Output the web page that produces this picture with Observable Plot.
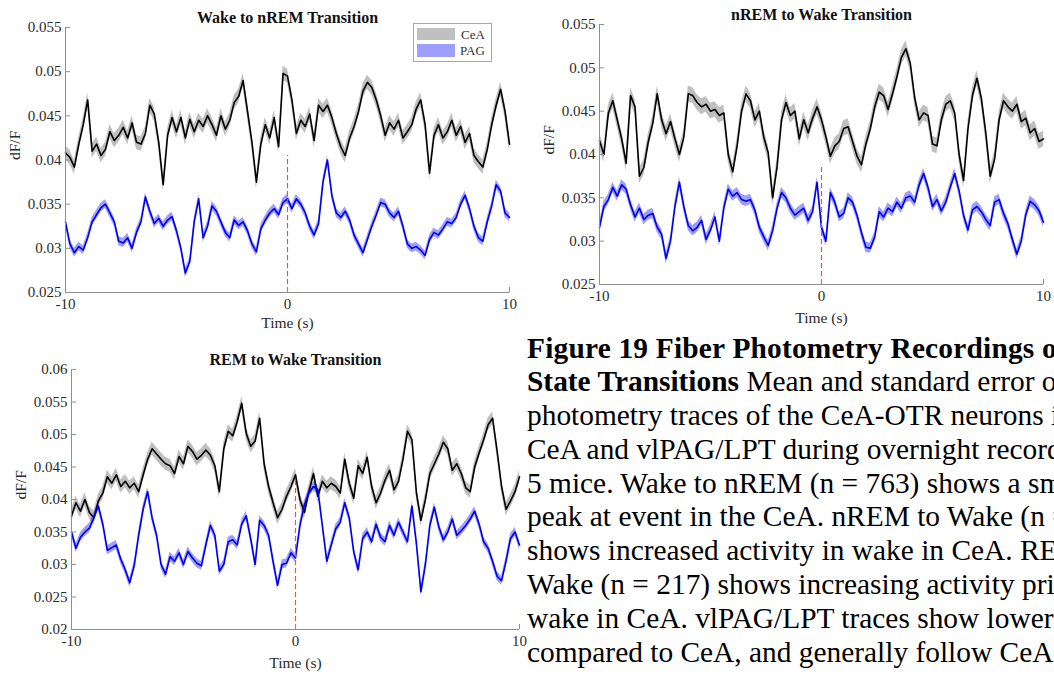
<!DOCTYPE html>
<html><head><meta charset="utf-8">
<script src="https://cdn.jsdelivr.net/npm/d3@7"></script>
<script src="https://cdn.jsdelivr.net/npm/@observablehq/plot@0.6"></script>
<style>
html,body{margin:0;padding:0;background:#fff;width:1054px;height:674px;overflow:hidden;}
body{position:relative;}
.panel{position:absolute;}
.legend{position:absolute;border:1px solid #a8a8a8;background:#fff;font-family:"Liberation Serif","Times New Roman",serif;font-size:13px;color:#333;}
.sw{position:absolute;width:38px;}
.lt{position:absolute;line-height:13px;}
.caption{position:absolute;left:527px;top:331.5px;font-family:"Liberation Serif","Times New Roman",serif;font-size:29.4px;line-height:33.8px;white-space:nowrap;color:#000;}
.l1{letter-spacing:0.2px;}
</style></head><body>
<div id="p1" class="panel" style="left:0;top:0"></div>
<div id="p2" class="panel" style="left:530px;top:0"></div>
<div id="p3" class="panel" style="left:0;top:335px"></div>
<div class="legend" style="left:413px;top:23px;width:77px;height:37px;">
  <div class="sw" style="left:3px;top:4px;height:12px;background:#c0c0c0"></div><div class="lt" style="left:47px;top:4px">CeA</div>
  <div class="sw" style="left:3px;top:20px;height:13px;background:#9e9eff"></div><div class="lt" style="left:46px;top:20px">PAG</div>
</div>
<div class="caption">
<div class="l1"><b>Figure 19 Fiber Photometry Recordings of</b></div>
<div><b>State Transitions</b> Mean and standard error of</div>
<div>photometry traces of the CeA-OTR neurons in</div>
<div>CeA and vlPAG/LPT during overnight recordings</div>
<div>5 mice. Wake to nREM (n = 763) shows a small</div>
<div>peak at event in the CeA. nREM to Wake (n =</div>
<div>shows increased activity in wake in CeA. REM to</div>
<div>Wake (n = 217) shows increasing activity prior to</div>
<div>wake in CeA. vlPAG/LPT traces show lower activity</div>
<div>compared to CeA, and generally follow CeA.</div>
</div>
<script>
const time = [-10,-9.8,-9.6,-9.4,-9.2,-9,-8.8,-8.6,-8.4,-8.2,-8,-7.8,-7.6,-7.4,-7.2,-7,-6.8,-6.6,-6.4,-6.2,-6,-5.8,-5.6,-5.4,-5.2,-5,-4.8,-4.6,-4.4,-4.2,-4,-3.8,-3.6,-3.4,-3.2,-3,-2.8,-2.6,-2.4,-2.2,-2,-1.8,-1.6,-1.4,-1.2,-1,-0.8,-0.6,-0.4,-0.2,0,0.2,0.4,0.6,0.8,1,1.2,1.4,1.6,1.8,2,2.2,2.4,2.6,2.8,3,3.2,3.4,3.6,3.8,4,4.2,4.4,4.6,4.8,5,5.2,5.4,5.6,5.8,6,6.2,6.4,6.6,6.8,7,7.2,7.4,7.6,7.8,8,8.2,8.4,8.6,8.8,9,9.2,9.4,9.6,9.8,10];

const xTicks = [-10, 0, 10];
const seriesNames = ["CeA", "PAG"];

// Wake to nREM
const wakeNremCeA = [0.0408,0.0403,0.0392,0.0418,0.0440,0.0468,0.0410,0.0418,0.0405,0.0412,
0.0432,0.0422,0.0428,0.0437,0.0425,0.0442,0.0420,0.0418,0.0430,0.0462,
0.0452,0.0420,0.0372,0.0428,0.0448,0.0432,0.0448,0.0425,0.0446,0.0432,
0.0445,0.0438,0.0450,0.0440,0.0428,0.0450,0.0435,0.0445,0.0465,0.0472,
0.0490,0.0455,0.0420,0.0375,0.0418,0.0440,0.0425,0.0448,0.0415,0.0498,
0.0495,0.0468,0.0430,0.0445,0.0438,0.0452,0.0422,0.0462,0.0455,0.0462,
0.0448,0.0430,0.0415,0.0405,0.0425,0.0438,0.0455,0.0478,0.0488,0.0482,
0.0468,0.0450,0.0428,0.0442,0.0435,0.0445,0.0425,0.0432,0.0440,0.0458,
0.0468,0.0440,0.0385,0.0428,0.0440,0.0425,0.0432,0.0445,0.0428,0.0438,
0.0420,0.0430,0.0405,0.0398,0.0392,0.0412,0.0440,0.0462,0.0480,0.0455,
0.0418];
const wakeNremPAG = [0.0330,0.0305,0.0295,0.0302,0.0298,0.0312,0.0330,0.0338,0.0346,0.0350,
0.0340,0.0330,0.0308,0.0306,0.0312,0.0300,0.0318,0.0330,0.0358,0.0342,
0.0328,0.0334,0.0325,0.0332,0.0336,0.0320,0.0300,0.0272,0.0285,0.0330,
0.0356,0.0312,0.0325,0.0348,0.0342,0.0330,0.0318,0.0312,0.0332,0.0326,
0.0330,0.0320,0.0305,0.0296,0.0322,0.0332,0.0340,0.0345,0.0338,0.0352,
0.0356,0.0345,0.0356,0.0350,0.0340,0.0325,0.0315,0.0328,0.0375,0.0400,
0.0360,0.0340,0.0335,0.0342,0.0332,0.0315,0.0305,0.0295,0.0310,0.0325,
0.0338,0.0352,0.0350,0.0340,0.0335,0.0342,0.0325,0.0305,0.0300,0.0302,
0.0298,0.0292,0.0310,0.0318,0.0315,0.0322,0.0330,0.0328,0.0335,0.0350,
0.0360,0.0345,0.0325,0.0312,0.0308,0.0330,0.0348,0.0372,0.0365,0.0340,
0.0335];

// nREM to Wake
const nremWakeCeA = [0.0416,0.0400,0.0448,0.0462,0.0440,0.0418,0.0390,0.0468,0.0455,0.0375,
0.0385,0.0415,0.0436,0.0470,0.0440,0.0424,0.0438,0.0418,0.0400,0.0420,
0.0470,0.0468,0.0460,0.0455,0.0458,0.0450,0.0452,0.0445,0.0448,0.0400,
0.0380,0.0410,0.0450,0.0470,0.0462,0.0440,0.0450,0.0420,0.0402,0.0350,
0.0386,0.0440,0.0460,0.0445,0.0450,0.0418,0.0440,0.0425,0.0442,0.0455,
0.0440,0.0420,0.0398,0.0410,0.0415,0.0430,0.0432,0.0415,0.0398,0.0388,
0.0412,0.0430,0.0455,0.0472,0.0468,0.0452,0.0470,0.0490,0.0512,0.0522,
0.0505,0.0465,0.0440,0.0448,0.0445,0.0412,0.0410,0.0440,0.0458,0.0462,
0.0448,0.0400,0.0370,0.0430,0.0468,0.0488,0.0465,0.0425,0.0375,0.0395,
0.0440,0.0462,0.0455,0.0450,0.0458,0.0438,0.0442,0.0425,0.0430,0.0415,
0.0418];
const nremWakePAG = [0.0316,0.0340,0.0348,0.0362,0.0352,0.0365,0.0360,0.0342,0.0328,0.0338,
0.0325,0.0330,0.0332,0.0316,0.0308,0.0280,0.0300,0.0340,0.0368,0.0340,
0.0318,0.0312,0.0316,0.0324,0.0302,0.0313,0.0328,0.0300,0.0338,0.0360,
0.0352,0.0356,0.0348,0.0346,0.0348,0.0336,0.0316,0.0305,0.0295,0.0312,
0.0338,0.0356,0.0350,0.0338,0.0330,0.0334,0.0338,0.0324,0.0334,0.0368,
0.0316,0.0300,0.0356,0.0345,0.0328,0.0332,0.0350,0.0345,0.0330,0.0310,
0.0293,0.0292,0.0305,0.0334,0.0328,0.0338,0.0334,0.0345,0.0338,0.0350,
0.0352,0.0345,0.0365,0.0378,0.0362,0.0340,0.0348,0.0335,0.0345,0.0362,
0.0378,0.0358,0.0330,0.0313,0.0336,0.0340,0.0334,0.0325,0.0318,0.0345,
0.0348,0.0332,0.0320,0.0302,0.0285,0.0300,0.0330,0.0346,0.0342,0.0335,
0.0322];

// REM to Wake
const remWakeCeA = [0.0375,0.0395,0.0382,0.0400,0.0380,0.0372,0.0398,0.0410,0.0435,0.0425,
0.0438,0.0420,0.0428,0.0418,0.0425,0.0412,0.0438,0.0462,0.0478,0.0470,
0.0462,0.0455,0.0452,0.0440,0.0466,0.0455,0.0482,0.0474,0.0462,0.0468,
0.0476,0.0468,0.0452,0.0412,0.0478,0.0505,0.0498,0.0520,0.0548,0.0502,
0.0482,0.0490,0.0525,0.0455,0.0420,0.0395,0.0372,0.0385,0.0405,0.0420,
0.0438,0.0400,0.0380,0.0412,0.0440,0.0405,0.0428,0.0418,0.0425,0.0420,
0.0410,0.0462,0.0425,0.0402,0.0452,0.0440,0.0465,0.0420,0.0395,0.0410,
0.0430,0.0445,0.0415,0.0428,0.0462,0.0505,0.0492,0.0410,0.0368,0.0400,
0.0440,0.0455,0.0470,0.0488,0.0478,0.0445,0.0455,0.0440,0.0418,0.0412,
0.0450,0.0472,0.0492,0.0515,0.0525,0.0475,0.0420,0.0385,0.0398,0.0412,
0.0435];
const remWakePAG = [0.0350,0.0325,0.0342,0.0350,0.0356,0.0372,0.0390,0.0362,0.0322,0.0326,
0.0330,0.0308,0.0292,0.0272,0.0298,0.0345,0.0385,0.0412,0.0372,0.0345,
0.0300,0.0285,0.0312,0.0305,0.0318,0.0300,0.0320,0.0310,0.0302,0.0298,
0.0330,0.0360,0.0345,0.0290,0.0300,0.0335,0.0338,0.0330,0.0362,0.0375,
0.0340,0.0300,0.0368,0.0360,0.0345,0.0305,0.0268,0.0300,0.0302,0.0318,
0.0310,0.0360,0.0392,0.0410,0.0420,0.0415,0.0360,0.0305,0.0330,0.0355,
0.0365,0.0395,0.0372,0.0320,0.0292,0.0340,0.0350,0.0335,0.0362,0.0342,
0.0335,0.0360,0.0345,0.0365,0.0350,0.0335,0.0390,0.0332,0.0258,0.0300,
0.0360,0.0388,0.0358,0.0338,0.0350,0.0370,0.0345,0.0352,0.0360,0.0370,
0.0382,0.0362,0.0335,0.0325,0.0305,0.0282,0.0275,0.0305,0.0340,0.0350,
0.0330];

// standard error half-widths
const semWakeNrem = [0.0008, 0.0005];
const semNremWake = [0.0009, 0.0006];
const semRemWake = [0.0010, 0.0007];

const yTicksA = [0.025,0.03,0.035,0.04,0.045,0.05,0.055];
const yTicksB = [0.02,0.025,0.03,0.035,0.04,0.045,0.05,0.055,0.06];

const FONT = '"Liberation Serif","Times New Roman",serif';
const AX = "#8f8f8f";

function panel(el, cfg) {
  const rows = time.map((t, i) => ({t, cea: cfg.cea[i], pag: cfg.pag[i]}));
  const [s0, s1] = cfg.sem;
  const y0 = cfg.yDomain[0];
  const chart = Plot.plot({
    width: cfg.width, height: cfg.height,
    marginLeft: cfg.m[0], marginRight: cfg.m[1], marginTop: cfg.m[2], marginBottom: cfg.m[3],
    style: {fontFamily: FONT, fontSize: "15px", color: "#2a2a2a", background: "transparent", overflow: "visible"},
    x: {domain: [-10, 10]},
    y: {domain: cfg.yDomain},
    marks: [
      Plot.areaY(rows, {x: "t", y1: d => d.cea - s0, y2: d => d.cea + s0, fill: "#808080", fillOpacity: 0.5}),
      Plot.line(rows, {x: "t", y: "cea", stroke: "#000", strokeWidth: 1.6}),
      Plot.areaY(rows, {x: "t", y1: d => d.pag - s1, y2: d => d.pag + s1, fill: "#0000ff", fillOpacity: 0.38}),
      Plot.line(rows, {x: "t", y: "pag", stroke: "#0000f0", strokeWidth: 1.6}),
      Plot.ruleX([0], {y1: y0, y2: cfg.markerTop, stroke: "#e4505f", strokeWidth: 1.2, strokeDasharray: "5,3"}),
      Plot.ruleX([-10], {stroke: AX}),
      Plot.ruleY([y0], {stroke: AX}),
      Plot.axisX({ticks: xTicks, tickSize: -5, tickPadding: 11, tickFormat: d => String(d), label: null, stroke: AX}),
      Plot.axisY({ticks: cfg.yTicks, tickSize: -5, tickPadding: 9, tickFormat: d => String(+d.toFixed(3)), label: null, stroke: AX}),
      Plot.text([cfg.title], {text: d => d, frameAnchor: "top", lineAnchor: "middle", dy: -10, fontWeight: "bold", fontSize: 16, fill: "#111"}),
      Plot.text(["Time (s)"], {text: d => d, frameAnchor: "bottom", lineAnchor: "middle", dy: cfg.timeDy, fontSize: 15.5, fill: "#2a2a2a"}),
      Plot.text(["dF/F"], {text: d => d, frameAnchor: "left", dx: -50, rotate: -90, fontSize: 15.5, fill: "#2a2a2a"})
    ]
  });
  document.getElementById(el).appendChild(chart);
}

panel("p1", {width: 530, height: 330, m: [65, 21, 27, 38], yDomain: [0.025, 0.055], yTicks: yTicksA, timeDy: 31,
  title: "Wake to nREM Transition", cea: wakeNremCeA, pag: wakeNremPAG, sem: semWakeNrem, markerTop: 0.0405});
panel("p2", {width: 524, height: 330, m: [69, 11, 24, 46], yDomain: [0.025, 0.055], yTicks: yTicksA, timeDy: 34,
  title: "nREM to Wake Transition", cea: nremWakeCeA, pag: nremWakePAG, sem: semNremWake, markerTop: 0.0385});
panel("p3", {width: 525, height: 339, m: [71, 6, 34, 45], yDomain: [0.02, 0.06], yTicks: yTicksB, timeDy: 34,
  title: "REM to Wake Transition", cea: remWakeCeA, pag: remWakePAG, sem: semRemWake, markerTop: 0.043});
</script>
</body></html>
